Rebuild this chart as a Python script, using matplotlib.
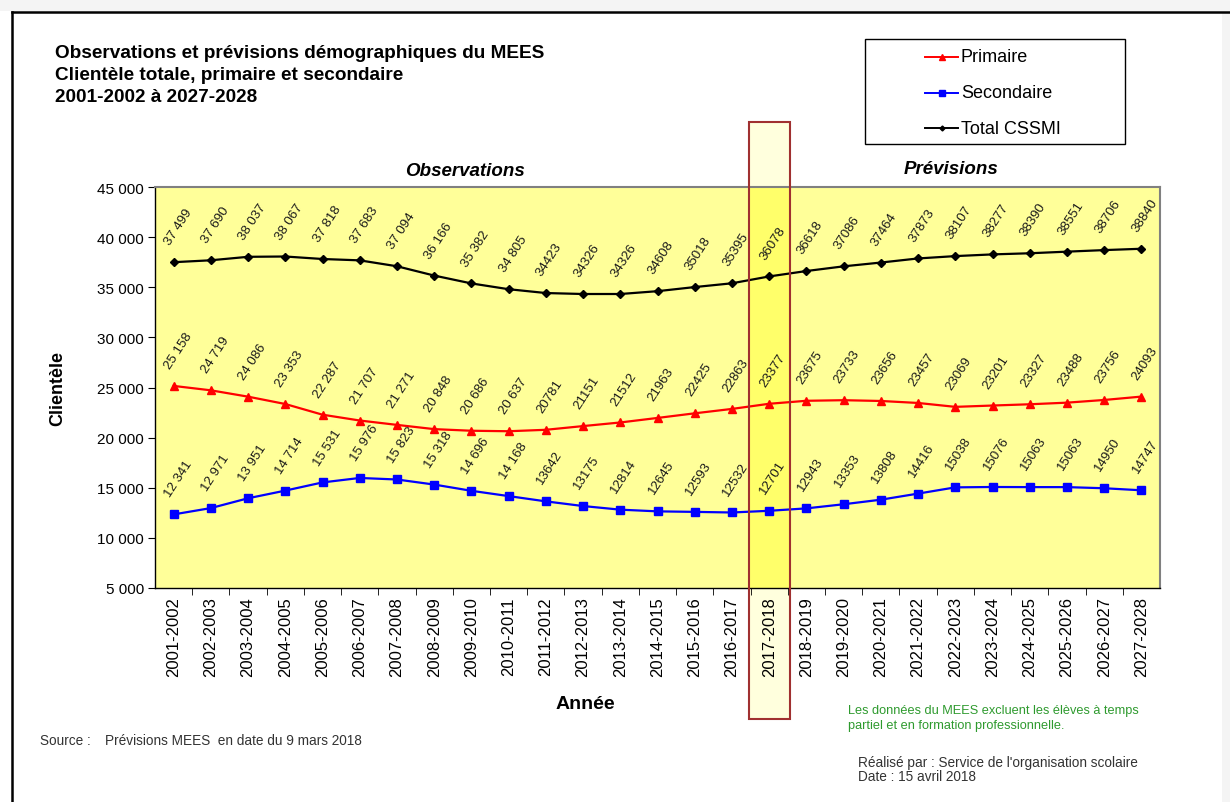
import matplotlib
matplotlib.use("Agg")
import matplotlib.pyplot as plt
from matplotlib.patches import Rectangle
from matplotlib.lines import Line2D
import matplotlib.transforms as mtransforms
from matplotlib.ticker import FixedLocator, FuncFormatter

plt.rcParams['font.family'] = ['Liberation Sans', 'DejaVu Sans']

annees = ["2001-2002", "2002-2003", "2003-2004", "2004-2005", "2005-2006", "2006-2007",
          "2007-2008", "2008-2009", "2009-2010", "2010-2011", "2011-2012", "2012-2013",
          "2013-2014", "2014-2015", "2015-2016", "2016-2017", "2017-2018", "2018-2019",
          "2019-2020", "2020-2021", "2021-2022", "2022-2023", "2023-2024", "2024-2025",
          "2025-2026", "2026-2027", "2027-2028"]

total = [37499, 37690, 38037, 38067, 37818, 37683, 37094, 36166, 35382, 34805, 34423,
         34326, 34326, 34608, 35018, 35395, 36078, 36618, 37086, 37464, 37873, 38107,
         38277, 38390, 38551, 38706, 38840]
primaire = [25158, 24719, 24086, 23353, 22287, 21707, 21271, 20848, 20686, 20637, 20781,
            21151, 21512, 21963, 22425, 22863, 23377, 23675, 23733, 23656, 23457, 23069,
            23201, 23327, 23488, 23756, 24093]
secondaire = [12341, 12971, 13951, 14714, 15531, 15976, 15823, 15318, 14696, 14168, 13642,
              13175, 12814, 12645, 12593, 12532, 12701, 12943, 13353, 13808, 14416, 15038,
              15076, 15063, 15063, 14950, 14747]
series_noms = ["Primaire", "Secondaire", "Total CSSMI"]
# first 10 labels use a thousands space in the original
n_espace = 10
annee_courante = "2017-2018"


def fmt(v, i):
    if i < n_espace:
        return f"{v:,}".replace(",", " ")
    return str(v)


W, H = 1230, 803
fig = plt.figure(figsize=(W / 100, H / 100), dpi=100, facecolor="white")

# screenshot frame
fig.add_artist(Rectangle((0, 1 - 12 / H), 1, 12 / H, transform=fig.transFigure,
                         facecolor="#f4f4f4", edgecolor="none", zorder=-5))
fig.add_artist(Rectangle((1222 / W, 0), 8 / W, 1 - 14 / H, transform=fig.transFigure,
                         facecolor="#f4f4f4", edgecolor="none", zorder=-5))
fig.add_artist(Line2D([12 / W, 1], [1 - 13 / H, 1 - 13 / H], transform=fig.transFigure,
                      color="black", lw=1.8))
fig.add_artist(Line2D([12 / W, 12 / W], [0, 1 - 13 / H], transform=fig.transFigure,
                      color="black", lw=1.8))

ax = fig.add_axes([155 / W, 1 - 589 / H, (1160 - 155) / W, (589 - 188) / H])
ax.set_facecolor("#FFFF99")
x = list(range(len(annees)))

styles = [("#FF0000", "^", 6), ("#0000FF", "s", 6), ("black", "D", 4)]
for serie, (c, m, ms) in zip((primaire, secondaire, total), styles):
    ax.plot(x, serie, color=c, lw=1.6, marker=m, ms=ms, zorder=4)

for serie in (total, primaire, secondaire):
    for i, v in enumerate(serie):
        ax.annotate(fmt(v, i), (i, v), xytext=(-1, 11), textcoords="offset points",
                    rotation=57, rotation_mode="anchor", ha="left", va="bottom",
                    fontsize=9.5, color="#1a1a1a", zorder=5)

ax.set_xlim(-0.5, len(annees) - 0.5)
ax.set_ylim(5000, 45000)
ax.set_yticks(range(5000, 45001, 5000))
ax.yaxis.set_major_formatter(FuncFormatter(lambda v, p: f"{int(v):,}".replace(",", " ")))
ax.set_xticks(x)
ax.set_xticklabels(annees, rotation=90, fontsize=12)
ax.xaxis.set_minor_locator(FixedLocator([i + 0.5 for i in x[:-1]]))
ax.tick_params(axis="x", which="major", length=0, pad=6)
ax.tick_params(axis="x", which="minor", length=5, direction="out", color="black")
ax.tick_params(axis="y", length=5, direction="out", labelsize=11, pad=3)
for s in ("top", "right"):
    ax.spines[s].set_color("#808080")
    ax.spines[s].set_linewidth(1.5)
for s in ("left", "bottom"):
    ax.spines[s].set_color("black")
    ax.spines[s].set_linewidth(1.0)

ax.set_ylabel("Clientèle", fontsize=13, fontweight="bold", labelpad=22)
fig.text(585 / W, 1 - 705 / H, "Année", fontsize=14, fontweight="bold",
         ha="center", va="center")

# highlight of the current year
ic = annees.index(annee_courante)
ax.axvspan(ic - 0.55, ic + 0.55, color="#FFFF6A", zorder=0.5, lw=0)
blend = mtransforms.blended_transform_factory(ax.transData, fig.transFigure)
fig.add_artist(Rectangle((ic - 0.55, 1 - 720 / H), 1.1, (720 - 123) / H, transform=blend,
                         facecolor="#FFFFDD", edgecolor="none", zorder=-1))
fig.add_artist(Rectangle((ic - 0.55, 1 - 720 / H), 1.1, (720 - 123) / H, transform=blend,
                         facecolor="none", edgecolor="#A03030", lw=1.5, zorder=10))

fig.text(465 / W, 1 - 172 / H, "Observations", ha="center", va="center",
         fontsize=13.5, fontweight="bold", style="italic")
fig.text(951 / W, 1 - 170 / H, "Prévisions", ha="center", va="center",
         fontsize=13.5, fontweight="bold", style="italic")

# titles
for k, t in enumerate(["Observations et prévisions démographiques du MEES",
                       "Clientèle totale, primaire et secondaire",
                       "2001-2002 à 2027-2028"]):
    fig.text(55 / W, 1 - (53 + 22 * k) / H, t, fontsize=13.7, fontweight="bold",
             va="center", ha="left")

# legend box (drawn like the original)
fig.add_artist(Rectangle((865 / W, 1 - 145 / H), 260 / W, 105 / H,
                         transform=fig.transFigure, facecolor="white",
                         edgecolor="black", lw=1.0, zorder=3))
for k, (nom, (c, m, ms)) in enumerate(zip(series_noms, styles)):
    yy = 1 - (58 + 35.5 * k) / H
    fig.add_artist(Line2D([925 / W, 958 / W], [yy, yy], transform=fig.transFigure,
                          color=c, lw=1.4, zorder=4))
    fig.add_artist(Line2D([941.5 / W], [yy], transform=fig.transFigure, color=c,
                          marker=m, ms=ms - 1.5, zorder=4))
    fig.text(961 / W, yy, nom, fontsize=13, va="center", ha="left", zorder=5)

# footnotes
fig.text(40 / W, 1 - 741 / H, "Source :", fontsize=9.8, va="center", color="#333333")
fig.text(105 / W, 1 - 741 / H, "Prévisions MEES  en date du 9 mars 2018", fontsize=9.8,
         va="center", color="#333333")
fig.text(848 / W, 1 - 711 / H, "Les données du MEES excluent les élèves à temps",
         fontsize=9.2, va="center", color="#2E9A2E")
fig.text(848 / W, 1 - 726 / H, "partiel et en formation professionnelle.",
         fontsize=9.2, va="center", color="#2E9A2E")
fig.text(858 / W, 1 - 763 / H, "Réalisé par : Service de l'organisation scolaire",
         fontsize=9.8, va="center", color="#333333")
fig.text(858 / W, 1 - 777 / H, "Date : 15 avril 2018", fontsize=9.8, va="center",
         color="#333333")

fig.savefig("out.png", dpi=100, facecolor="white")
